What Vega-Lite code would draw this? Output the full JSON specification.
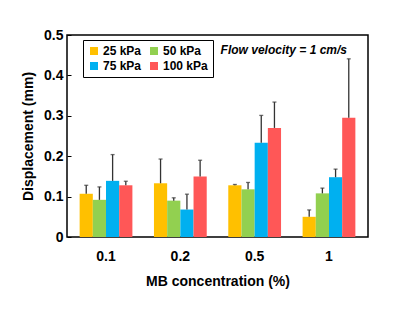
{
  "$schema": "https://vega.github.io/schema/vega-lite/v6.json",
  "width": 301,
  "height": 202,
  "autosize": {"type": "none"},
  "padding": {"left": 67, "top": 35, "right": 32, "bottom": 74},
  "background": "white",
  "title": {
    "text": "Flow velocity = 1 cm/s",
    "anchor": "end",
    "orient": "top",
    "frame": "group",
    "offset": -38,
    "dx": -21,
    "baseline": "alphabetic",
    "font": "Liberation Sans",
    "fontSize": 12,
    "fontWeight": "bold",
    "fontStyle": "italic",
    "color": "black"
  },
  "config": {
    "font": "Liberation Sans",
    "view": {"stroke": "black", "strokeWidth": 1.5},
    "axis": {
      "labelFont": "Liberation Sans",
      "titleFont": "Liberation Sans",
      "labelFontSize": 14,
      "titleFontSize": 14,
      "labelFontWeight": "bold",
      "titleFontWeight": "bold",
      "labelColor": "black",
      "titleColor": "black",
      "grid": false,
      "domain": false
    }
  },
  "data": {
    "values": [
      {"conc": "0.1", "kPa": "25 kPa", "value": 0.107, "upper": 0.128},
      {"conc": "0.1", "kPa": "50 kPa", "value": 0.092, "upper": 0.124},
      {"conc": "0.1", "kPa": "75 kPa", "value": 0.139, "upper": 0.204},
      {"conc": "0.1", "kPa": "100 kPa", "value": 0.128, "upper": 0.138},
      {"conc": "0.2", "kPa": "25 kPa", "value": 0.133, "upper": 0.193},
      {"conc": "0.2", "kPa": "50 kPa", "value": 0.090, "upper": 0.097},
      {"conc": "0.2", "kPa": "75 kPa", "value": 0.068, "upper": 0.106},
      {"conc": "0.2", "kPa": "100 kPa", "value": 0.150, "upper": 0.190},
      {"conc": "0.5", "kPa": "25 kPa", "value": 0.128, "upper": 0.130},
      {"conc": "0.5", "kPa": "50 kPa", "value": 0.118, "upper": 0.135},
      {"conc": "0.5", "kPa": "75 kPa", "value": 0.233, "upper": 0.301},
      {"conc": "0.5", "kPa": "100 kPa", "value": 0.270, "upper": 0.334},
      {"conc": "1", "kPa": "25 kPa", "value": 0.050, "upper": 0.067},
      {"conc": "1", "kPa": "50 kPa", "value": 0.108, "upper": 0.121},
      {"conc": "1", "kPa": "75 kPa", "value": 0.148, "upper": 0.168},
      {"conc": "1", "kPa": "100 kPa", "value": 0.295, "upper": 0.441}
    ]
  },
  "encoding": {
    "x": {
      "field": "conc",
      "type": "nominal",
      "sort": ["0.1", "0.2", "0.5", "1"],
      "scale": {"paddingInner": 0.29, "paddingOuter": 0.17},
      "axis": {"labelAngle": 0, "ticks": false, "labelPadding": 12, "titlePadding": 11, "title": "MB concentration (%)"}
    },
    "xOffset": {
      "field": "kPa",
      "type": "nominal",
      "sort": ["25 kPa", "50 kPa", "75 kPa", "100 kPa"],
      "scale": {"paddingInner": 0, "paddingOuter": 0}
    }
  },
  "layer": [
    {
      "mark": {"type": "bar"},
      "encoding": {
        "y": {
          "field": "value",
          "type": "quantitative",
          "scale": {"domain": [0, 0.5], "nice": false},
          "axis": {"values": [0, 0.1, 0.2, 0.3, 0.4, 0.5], "format": ".1~f", "tickSize": -4, "tickColor": "black", "tickWidth": 1, "labelPadding": 8, "titlePadding": 8, "title": "Displacement (mm)"}
        },
        "color": {
          "field": "kPa",
          "type": "nominal",
          "scale": {"domain": ["25 kPa", "75 kPa", "50 kPa", "100 kPa"], "range": ["#FFC000", "#00B0F0", "#92D050", "#FF5757"]},
          "legend": {
            "orient": "none",
            "legendX": 16,
            "legendY": 5,
            "title": null,
            "columns": 2,
            "columnPadding": 6,
            "rowPadding": 3,
            "padding": 5,
            "strokeColor": "black",
            "symbolType": "square",
            "symbolSize": 64,
            "symbolStrokeWidth": 0,
            "symbolOpacity": 1,
            "labelFont": "Liberation Sans",
            "labelFontSize": 12,
            "labelFontWeight": "bold",
            "labelColor": "black",
            "labelOffset": 3
          }
        }
      }
    },
    {
      "mark": {"type": "rule", "color": "#333333", "strokeWidth": 1.3},
      "encoding": {
        "y": {"field": "value", "type": "quantitative"},
        "y2": {"field": "upper"}
      }
    },
    {
      "mark": {"type": "tick", "color": "#333333", "thickness": 1.3, "size": 4},
      "encoding": {
        "y": {"field": "upper", "type": "quantitative"}
      }
    }
  ]
}
